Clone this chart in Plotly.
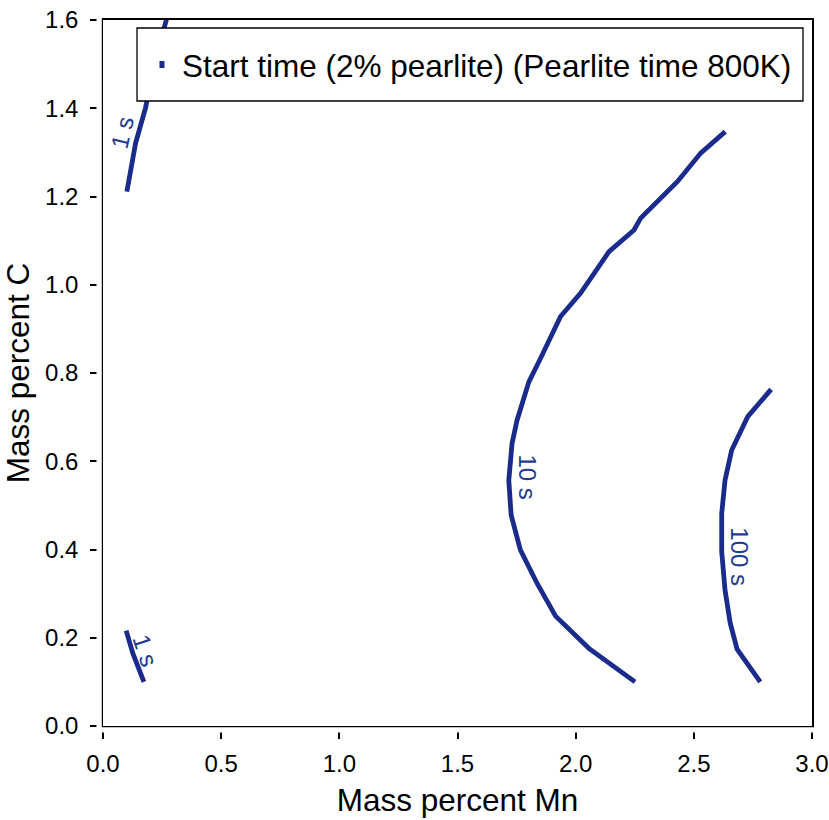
import plotly.graph_objects as go

# ---- data ----
c1a_mn = [0.101, 0.138, 0.180, 0.227, 0.269, 0.280]
c1a_c = [1.211, 1.321, 1.401, 1.521, 1.602, 1.630]

c1b_mn = [0.098, 0.126, 0.173]
c1b_c = [0.216, 0.165, 0.100]

c10_mn = [2.251, 2.056, 1.915, 1.837, 1.766, 1.727, 1.717, 1.731, 1.752, 1.780,
          1.802, 1.851, 1.936, 2.021, 2.141, 2.247, 2.275, 2.431, 2.530, 2.633]
c10_c = [0.100, 0.176, 0.249, 0.323, 0.399, 0.478, 0.557, 0.641, 0.693, 0.739,
         0.780, 0.833, 0.928, 0.981, 1.075, 1.124, 1.151, 1.234, 1.299, 1.347]

c100_mn = [2.827, 2.728, 2.660, 2.632, 2.618, 2.618, 2.632, 2.654, 2.683, 2.781]
c100_c = [0.763, 0.701, 0.625, 0.557, 0.482, 0.395, 0.308, 0.233, 0.174, 0.100]

label_text = ["1 s", "1 s", "10 s", "100 s"]
label_mn = [0.083, 0.180, 1.795, 2.692]
label_c = [1.344, 0.172, 0.565, 0.384]
label_angle = [-77, 72, 90, 90]

legend_name = "Start time (2% pearlite) (Pearlite time 800K)"

x_ticks = [0.0, 0.5, 1.0, 1.5, 2.0, 2.5, 3.0]
y_ticks = [0.0, 0.2, 0.4, 0.6, 0.8, 1.0, 1.2, 1.4, 1.6]

# ---- style ----
LINE = "#1a2b8b"
LABEL = "#233a92"
FONT = "Liberation Sans, Arial, sans-serif"
W, H = 829, 820
ML, MR, MT, MB = 103, 17, 20, 94
PW, PH = W - ML - MR, H - MT - MB


def px_x(p):
    return (p - ML) / PW


def px_y(p):
    return (H - MB - p) / PH


fig = go.Figure()
for xs, ys in [(c1a_mn, c1a_c), (c1b_mn, c1b_c), (c10_mn, c10_c), (c100_mn, c100_c)]:
    fig.add_trace(go.Scatter(x=xs, y=ys, mode="lines", showlegend=False,
                             line=dict(color=LINE, width=4.8), hoverinfo="skip"))

fig.add_trace(go.Scatter(x=[None], y=[None], mode="markers", name=legend_name,
                         marker=dict(symbol="line-ns", size=5, color=LINE,
                                     line=dict(color=LINE, width=5))))

for t, x, y, a in zip(label_text, label_mn, label_c, label_angle):
    fig.add_annotation(x=x, y=y, text=t, textangle=a, showarrow=False,
                       font=dict(family=FONT, size=24, color=LABEL))

# white strips to detach ticks from the frame
gx = 1.0 / PW
gy = 1.0 / PH
fig.add_shape(type="rect", xref="paper", yref="paper", layer="above",
              x0=-3 * gx, x1=1 + 3 * gx, y0=-1.2 * gy, y1=-6.5 * gy,
              fillcolor="white", line=dict(width=0))
fig.add_shape(type="rect", xref="paper", yref="paper", layer="above",
              x0=-1.2 * gx, x1=-6.5 * gx, y0=-3 * gy, y1=1 + 3 * gy,
              fillcolor="white", line=dict(width=0))
# legend box
fig.add_shape(type="rect", xref="paper", yref="paper", layer="above",
              x0=px_x(137), x1=px_x(803), y0=px_y(101), y1=px_y(28),
              fillcolor="white", line=dict(color="black", width=1.3))

axis_common = dict(showline=True, linecolor="black", linewidth=1.5, mirror=True,
                   ticks="outside", ticklen=11, tickwidth=1.5, tickcolor="black",
                   showgrid=False, zeroline=False,
                   tickfont=dict(family=FONT, size=24, color="black"))

fig.update_layout(
    width=W, height=H,
    margin=dict(l=ML, r=MR, t=MT, b=MB, autoexpand=False),
    plot_bgcolor="white", paper_bgcolor="white",
    font=dict(family=FONT, color="black"),
    xaxis=dict(range=[0, 3], tickvals=x_ticks, ticktext=[f"{v:.1f}" for v in x_ticks],
               title=dict(text="Mass percent Mn", font=dict(family=FONT, size=31.5), standoff=13),
               ticklabelstandoff=4, **axis_common),
    yaxis=dict(range=[0, 1.6], tickvals=y_ticks, ticktext=[f"{v:.1f}" for v in y_ticks],
               title=dict(text="Mass percent C", font=dict(family=FONT, size=31.5), standoff=8),
               ticklabelstandoff=7, **axis_common),
    legend=dict(x=px_x(142), y=px_y(64.5), xanchor="left", yanchor="middle",
                borderwidth=0, bgcolor="rgba(0,0,0,0)",
                font=dict(family=FONT, size=31.5, color="black")),
    showlegend=True,
)

fig.write_html("out.html")
